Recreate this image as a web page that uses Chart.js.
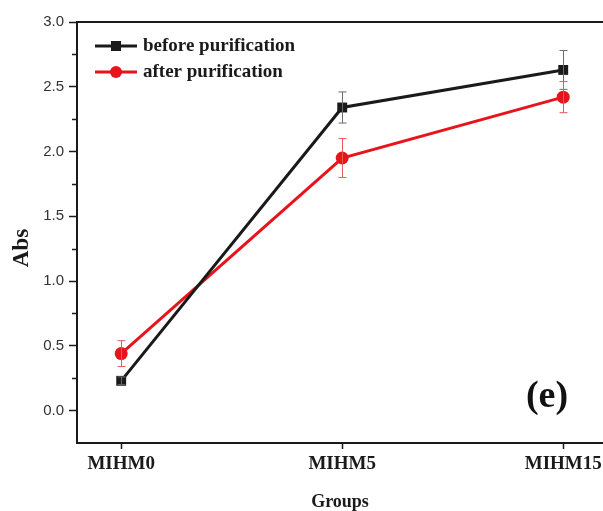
<!DOCTYPE html>
<html>
<head>
<meta charset="utf-8">
<script src="https://cdn.jsdelivr.net/npm/chart.js@4"></script>
<style>
  html, body { margin: 0; padding: 0; background: #fff; }
  #wrap { width: 603px; height: 511px; }
</style>
</head>
<body>
<div id="wrap"><canvas id="grafico"></canvas></div>
<script>
// datos
const groups = ['MIHM0', 'MIHM5', 'MIHM15'];
const beforeVals = [0.23, 2.34, 2.63];
const beforeErr = [0.03, 0.12, 0.15];
const afterVals = [0.44, 1.95, 2.42];
const afterErr = [0.10, 0.15, 0.12];
const yTicks = [0, 0.5, 1.0, 1.5, 2.0, 2.5, 3.0];
const yMinor = [0.25, 0.75, 1.25, 1.75, 2.25, 2.75];

const serif = '"Liberation Serif", "Times New Roman", serif';

const toPts = (vals) => vals.map((v, i) => ({ x: i, y: v }));

// barras de error, leyenda, borde superior y etiquetas
const extras = {
    id: 'extras',
    afterDatasetsDraw(chart) {
        const ctx = chart.ctx;
        const xs = chart.scales.x;
        const ys = chart.scales.y;
        const area = chart.chartArea;

        // borde superior
        ctx.save();
        ctx.strokeStyle = '#1a1a1a';
        ctx.lineWidth = 2;
        ctx.beginPath();
        ctx.moveTo(area.left - 1, area.top);
        ctx.lineTo(area.right + 2, area.top);
        ctx.stroke();

        // ticks menores del eje y
        ctx.lineWidth = 1.5;
        yMinor.forEach(v => {
            const py = Math.round(ys.getPixelForValue(v)) + 0.5;
            ctx.beginPath();
            ctx.moveTo(area.left - 5, py);
            ctx.lineTo(area.left, py);
            ctx.stroke();
        });

        // barras de error
        const drawErr = (vals, errs, color) => {
            ctx.strokeStyle = color;
            ctx.lineWidth = 1;
            vals.forEach((v, i) => {
                const px = Math.round(xs.getPixelForValue(i)) + 0.5;
                const top = ys.getPixelForValue(v + errs[i]);
                const bot = ys.getPixelForValue(v - errs[i]);
                ctx.beginPath();
                ctx.moveTo(px, top); ctx.lineTo(px, bot);
                ctx.moveTo(px - 4, top); ctx.lineTo(px + 4, top);
                ctx.moveTo(px - 4, bot); ctx.lineTo(px + 4, bot);
                ctx.stroke();
            });
        };
        drawErr(beforeVals, beforeErr, '#6b6b6b');
        drawErr(afterVals, afterErr, '#e85a5a');
        ctx.restore();
    },
    afterDraw(chart) {
        const ctx = chart.ctx;
        const area = chart.chartArea;
        ctx.save();

        // leyenda
        const items = chart.data.datasets;
        items.forEach((ds, i) => {
            const y = area.top + 24 + i * 26;
            const x0 = area.left + 18;
            ctx.strokeStyle = ds.borderColor;
            ctx.lineWidth = 3;
            ctx.beginPath();
            ctx.moveTo(x0, y);
            ctx.lineTo(x0 + 42, y);
            ctx.stroke();
            ctx.fillStyle = ds.backgroundColor;
            if (ds.pointStyle === 'rect') {
                ctx.fillRect(x0 + 16, y - 5, 10, 10);
            } else {
                ctx.beginPath();
                ctx.arc(x0 + 21, y, 6, 0, Math.PI * 2);
                ctx.fill();
            }
            ctx.fillStyle = '#1a1a1a';
            ctx.font = 'bold 19px ' + serif;
            ctx.textBaseline = 'middle';
            ctx.textAlign = 'left';
            ctx.fillText(ds.label, x0 + 48, y);
        });

        // titulo eje y
        ctx.translate(22, 248);
        ctx.rotate(-Math.PI / 2);
        ctx.font = 'bold 23px ' + serif;
        ctx.textAlign = 'center';
        ctx.textBaseline = 'middle';
        ctx.fillStyle = '#1a1a1a';
        ctx.fillText('Abs', 0, 0);
        ctx.restore();

        // etiqueta del panel
        ctx.save();
        ctx.font = 'bold 38px ' + serif;
        ctx.fillStyle = '#111';
        ctx.textAlign = 'center';
        ctx.textBaseline = 'middle';
        ctx.fillText('(e)', 547, 397);
        ctx.restore();
    }
};

new Chart(document.getElementById('grafico'), {
    type: 'line',
    data: {
        datasets: [
            {
                label: 'before purification',
                data: toPts(beforeVals),
                borderColor: '#1a1a1a',
                backgroundColor: '#1a1a1a',
                borderWidth: 3,
                pointStyle: 'rect',
                pointRadius: 7,
                pointBorderWidth: 0,
            },
            {
                label: 'after purification',
                data: toPts(afterVals),
                borderColor: '#e8141c',
                backgroundColor: '#e8141c',
                borderWidth: 3,
                pointStyle: 'circle',
                pointRadius: 6.5,
                pointBorderWidth: 0,
            },
        ],
    },
    plugins: [extras],
    options: {
        responsive: true,
        maintainAspectRatio: false,
        animation: false,
        layout: { autoPadding: false, padding: { top: 22, right: 0, left: 0, bottom: 0 } },
        plugins: {
            legend: { display: false },
            tooltip: { enabled: false },
        },
        scales: {
            x: {
                type: 'linear',
                min: -0.2,
                max: 2.18,
                afterFit: (s) => { s.height = 68; s.paddingLeft = 0; s.paddingRight = 0; },
                afterBuildTicks: (s) => { s.ticks = groups.map((g, i) => ({ value: i })); },
                grid: { drawOnChartArea: false, tickLength: 6, tickWidth: 1.5, tickColor: '#1a1a1a' },
                border: { color: '#1a1a1a', width: 2 },
                ticks: {
                    callback: (v) => groups[v] ?? '',
                    font: { family: serif, size: 19, weight: 'bold' },
                    color: '#1a1a1a',
                    padding: 4,
                    maxRotation: 0,
                },
                title: {
                    display: true,
                    text: 'Groups',
                    font: { family: serif, size: 18, weight: 'bold', lineHeight: 1.0 },
                    color: '#1a1a1a',
                    padding: { top: 0, bottom: 0 },
                },
            },
            y: {
                min: -0.25,
                max: 3.0,
                afterFit: (s) => { s.width = 77; },
                afterBuildTicks: (s) => { s.ticks = yTicks.map(v => ({ value: v })); },
                grid: { drawOnChartArea: false, tickLength: 8, tickWidth: 1.5, tickColor: '#1a1a1a' },
                border: { color: '#1a1a1a', width: 2 },
                ticks: {
                    callback: (v) => v.toFixed(1),
                    font: { family: '"Liberation Sans", Arial, sans-serif', size: 15 },
                    color: '#333',
                    padding: 5,
                },
            },
        },
    },
});
</script>
</body>
</html>
